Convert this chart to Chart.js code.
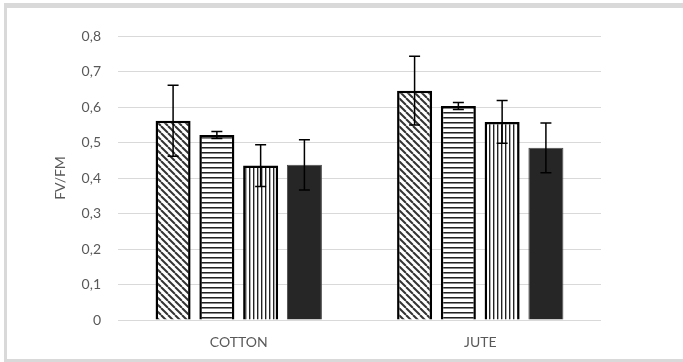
<!DOCTYPE html>
<html lang="en">

<head>
    <meta charset="UTF-8">
    <title>FV/FM</title>
    <style>
        html, body { margin: 0; padding: 0; background: #fff; overflow: hidden; }
        #frame {
            position: absolute; left: 4px; top: 3px; width: 720px; height: 351px;
            border-top: 5px solid #d9d9d9; border-left: 3px solid #d9d9d9; border-bottom: 4px solid #d9d9d9;
        }
        #wrap { position: absolute; left: 0; top: 0; width: 683px; height: 362px; }
        canvas { display: block; }
    </style>
</head>

<body>
    <div id="frame"></div>
    <div id="wrap"><canvas id="myChart" width="683" height="362"></canvas></div>
    <script src="https://cdn.jsdelivr.net/npm/chart.js"></script>
    <script>
        const categories = ['COTTON', 'JUTE'];
        const yTicks = [0, 0.1, 0.2, 0.3, 0.4, 0.5, 0.6, 0.7, 0.8];

        // four treatments, one value per category
        const diagValues = [0.561, 0.646];
        const diagErr = [0.100, 0.097];
        const horizValues = [0.521, 0.603];
        const horizErr = [0.010, 0.010];
        const vertValues = [0.435, 0.558];
        const vertErr = [0.059, 0.060];
        const solidValues = [0.437, 0.485];
        const solidErr = [0.071, 0.070];

        // hatch patterns
        function makePattern(kind) {
            const c = document.createElement('canvas');
            const p = c.getContext('2d');
            if (kind === 'diag') {
                c.width = 7; c.height = 7;
                p.fillStyle = '#fff'; p.fillRect(0, 0, 7, 7);
                p.strokeStyle = '#333'; p.lineWidth = 2;
                for (const o of [-7, 0, 7]) {
                    p.beginPath(); p.moveTo(o, 0); p.lineTo(o + 7, 7); p.stroke();
                }
            } else if (kind === 'horiz') {
                c.width = 5; c.height = 5;
                p.fillStyle = '#fff'; p.fillRect(0, 0, 5, 5);
                p.fillStyle = '#222'; p.fillRect(0, 2, 5, 1);
                p.fillStyle = '#888'; p.fillRect(0, 3, 5, 1);
            } else {
                c.width = 4; c.height = 4;
                p.fillStyle = '#fff'; p.fillRect(0, 0, 4, 4);
                p.fillStyle = '#222'; p.fillRect(1, 0, 1, 4);
                p.fillStyle = '#aaa'; p.fillRect(2, 0, 1, 4);
            }
            return p.createPattern(c, 'repeat');
        }

        const errorBars = {
            id: 'errorBars',
            afterDatasetsDraw(chart) {
                const { ctx, scales: { y } } = chart;
                ctx.save();
                ctx.strokeStyle = '#000';
                ctx.lineWidth = 1.5;
                chart.data.datasets.forEach((ds, i) => {
                    const meta = chart.getDatasetMeta(i);
                    meta.data.forEach((bar, j) => {
                        const v = ds.data[j], e = ds.errors[j];
                        const top = y.getPixelForValue(v + e);
                        const bot = y.getPixelForValue(v - e);
                        ctx.beginPath();
                        ctx.moveTo(bar.x, top); ctx.lineTo(bar.x, bot);
                        ctx.moveTo(bar.x - 5.5, top); ctx.lineTo(bar.x + 5.5, top);
                        ctx.moveTo(bar.x - 5.5, bot); ctx.lineTo(bar.x + 5.5, bot);
                        ctx.stroke();
                    });
                });
                ctx.restore();
            }
        };

        const font = { family: 'Lato, "Open Sans", sans-serif', size: 14 };

        const ctx = document.getElementById('myChart').getContext('2d');
        new Chart(ctx, {
            type: 'bar',
            data: {
                labels: categories,
                datasets: [
                    { label: 'A', data: diagValues, errors: diagErr, backgroundColor: makePattern('diag'), borderColor: '#000', borderWidth: 2.5 },
                    { label: 'B', data: horizValues, errors: horizErr, backgroundColor: makePattern('horiz'), borderColor: '#000', borderWidth: 2.5 },
                    { label: 'C', data: vertValues, errors: vertErr, backgroundColor: makePattern('vert'), borderColor: '#000', borderWidth: 2.5 },
                    { label: 'D', data: solidValues, errors: solidErr, backgroundColor: '#262626', borderColor: '#4a4a4a', borderWidth: 1 }
                ]
            },
            options: {
                responsive: false,
                animation: false,
                categoryPercentage: 0.725,
                barPercentage: 0.8,
                layout: { padding: { left: 50, right: 82, top: 36, bottom: 12 } },
                plugins: { legend: { display: false }, tooltip: { enabled: false } },
                scales: {
                    x: {
                        grid: { display: false, drawTicks: false },
                        border: { display: false },
                        ticks: { color: '#595959', font: font, padding: 14 },
                        afterFit(s) { s.height = 30; }
                    },
                    y: {
                        min: 0, max: 0.8,
                        afterBuildTicks(s) { s.ticks = yTicks.map(v => ({ value: v })); },
                        grid: { color: '#d9d9d9', drawTicks: false },
                        border: { display: false },
                        ticks: {
                            color: '#595959', font: font, padding: 17,
                            callback: v => String(Math.round(v * 10) / 10).replace('.', ',')
                        },
                        title: { display: true, text: 'FV/FM', color: '#595959', font: font, padding: { top: 2, bottom: 4 } },
                        afterFit(s) { s.width = 68; }
                    }
                }
            },
            plugins: [errorBars]
        });
    </script>
</body>

</html>
